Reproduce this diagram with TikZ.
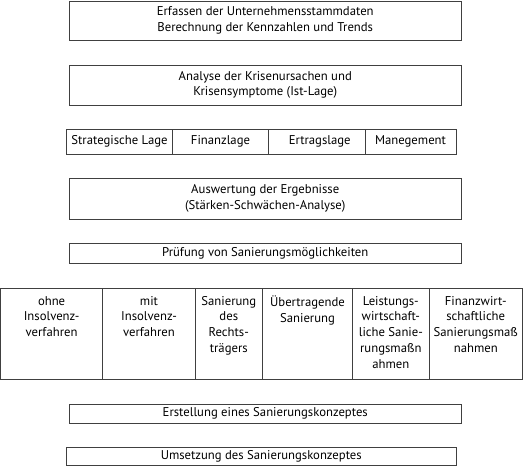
\documentclass[tikz,border=0pt]{standalone}
\usepackage{fontspec}
\setmainfont{PT Sans}
\begin{document}
\begin{tikzpicture}[x=1pt,y=-1pt,
  box/.style={draw=black!75, line width=0.9pt, rectangle, inner sep=0pt, align=center, font=\fontsize{12.7}{15.7}\selectfont},
  cell/.style={draw=black!75, line width=0.9pt, rectangle, inner sep=0pt},
  celltext/.style={inner sep=0pt, align=center, font=\fontsize{12.7}{15.7}\selectfont}
]
\useasboundingbox (0,0) rectangle (529,468);
% top boxes
\node[box, minimum width=391.5pt, minimum height=39pt] (b1) at (265.25,20.5) {Erfassen der Unternehmensstammdaten\\Berechnung der Kennzahlen und Trends};
\node[box, minimum width=391.5pt, minimum height=40pt] (b2) at (265.25,85) {Analyse der Krisenursachen und\\Krisensymptome (Ist-Lage)};
% row of four
\node[box, minimum width=106pt, minimum height=24.5pt] (r1) at (119.5,141.75) {Strategische Lage};
\node[box, minimum width=96pt, minimum height=24.5pt] (r2) at (220.5,141.75) {Finanzlage};
\node[box, minimum width=96.5pt, minimum height=24.5pt] (r3) at (316.75,141.75) {\hspace*{6pt}Ertragslage};
\node[box, minimum width=91pt, minimum height=24.5pt] (r4) at (410.5,141.75) {Manegement};
\node[box, minimum width=391.5pt, minimum height=41pt] (b3) at (265.25,198.5) {Auswertung der Ergebnisse\\(Stärken-Schwächen-Analyse)};
\node[box, minimum width=391.5pt, minimum height=20pt] (b4) at (265.25,253) {Prüfung von Sanierungsmöglichkeiten};
% row of six
\node[cell, minimum width=102.2pt, minimum height=91pt] (c1) at (51.6,333.5) {};
\node[cell, minimum width=92.6pt, minimum height=91pt] (c2) at (149,333.5) {};
\node[cell, minimum width=67pt, minimum height=91pt] (c3) at (228.8,333.5) {};
\node[cell, minimum width=90.4pt, minimum height=91pt] (c4) at (307.5,333.5) {};
\node[cell, minimum width=76.3pt, minimum height=91pt] (c5) at (390.85,333.5) {};
\node[cell, minimum width=93.5pt, minimum height=91pt] (c6) at (475.75,333.5) {};
\node[celltext, anchor=north] (t1) at ([yshift=-8.5pt]c1.north) {ohne\\Insolvenz-\\verfahren};
\node[celltext, anchor=north] (t2) at ([yshift=-8.5pt]c2.north) {mit\\Insolvenz-\\verfahren};
\node[celltext, anchor=north] (t3) at ([yshift=-8.5pt]c3.north) {Sanierung\\des\\Rechts-\\trägers};
\node[celltext, anchor=north] (t4) at ([yshift=-8.5pt]c4.north) {Übertragende\\Sanierung};
\node[celltext, anchor=north] (t5) at ([yshift=-8.5pt]c5.north) {Leistungs-\\wirtschaft-\\liche Sanie-\\rungsmaßn\\ahmen};
\node[celltext, anchor=north] (t6) at ([yshift=-8.5pt]c6.north) {Finanzwirt-\\schaftliche\\Sanierungsmaß\\nahmen};
% bottom boxes
\node[box, minimum width=391.5pt, minimum height=19.5pt] (b5) at (265.25,413.75) {Erstellung eines Sanierungskonzeptes};
\node[box, minimum width=389.5pt, minimum height=18pt] (b6) at (261.25,456) {Umsetzung des Sanierungskonzeptes};
\end{tikzpicture}
\end{document}
